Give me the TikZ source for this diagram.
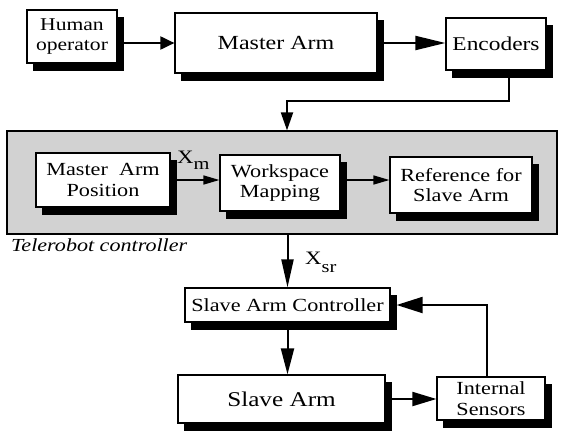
\documentclass[tikz,border=0pt]{standalone}
\usepackage{fontspec}
\setmainfont{Liberation Serif}[FakeStretch=1.2]
\usetikzlibrary{arrows.meta}
\begin{document}
\begin{tikzpicture}[x=1pt,y=-1pt,
  blk/.style={draw, line width=1.2pt, fill=white, align=center, inner sep=0pt},
  fs/.style={font=\fontsize{#1}{20.5}\selectfont},
  conn/.style={line width=2pt},
  tip/.style 2 args={-{Triangle[length=#1pt,width=#2pt]}},
  lbl/.style={inner sep=0pt, anchor=base west},
  shd/.style={draw=black, fill=black, line width=0.5pt}
]
\useasboundingbox (0,0) rectangle (561,434);

% controller panel
\node[draw, line width=1.2pt, fill=gray!35, minimum width=550pt, minimum height=103pt, inner sep=0pt] (panel) at (282,182.5) {};

% shadows (drawn first, offset right/down)
\path[shd] (33,17) rectangle (123,70);
\path[shd] (181,20) rectangle (383,80);
\path[shd] (452,25) rectangle (552,77);
\path[shd] (42,160) rectangle (176,214);
\path[shd] (226,162) rectangle (346,218);
\path[shd] (396,164) rectangle (538,220);
\path[shd] (191,295) rectangle (396,329);
\path[shd] (184,382) rectangle (391,430);
\path[shd] (443,384) rectangle (551,427);

% top row
\node[blk, fs=18, minimum width=90pt, minimum height=53pt] (hum) at (72,36.5) {Human\\operator};
\node[blk, fs=20, minimum width=202pt, minimum height=60pt] (ma) at (276,43) {Master Arm};
\node[blk, fs=19.5, minimum width=100pt, minimum height=52pt] (enc) at (496,44) {Encoders};

% controller contents
\node[blk, fs=18.5, minimum width=134pt, minimum height=54pt] (map) at (103,180) {Master~ Arm\\Position};
\node[blk, fs=18.5, minimum width=120pt, minimum height=56pt] (wm) at (280,183) {Workspace\\Mapping};
\node[blk, fs=18.5, minimum width=142pt, minimum height=56pt] (ref) at (461,185) {Reference for\\Slave Arm};

% lower part
\node[blk, fs=18.5, minimum width=205pt, minimum height=34pt] (sac) at (287.5,305) {Slave Arm Controller};
\node[blk, fs=21, minimum width=207pt, minimum height=48pt] (sa) at (281.5,399) {Slave Arm};
\node[blk, fs=18.5, minimum width=108pt, minimum height=43pt] (is) at (491,398.5) {Internal\\Sensors};

% labels
\node[lbl, font=\fontsize{18.4}{20}\selectfont\itshape] (tel) at (11,251) {Telerobot controller};
\node[lbl, font=\fontsize{19}{20}\selectfont] (xm) at (177,163) {X\raisebox{-6pt}{\fontsize{17}{17}\selectfont m}};
\node[lbl, font=\fontsize{19}{20}\selectfont] (xsr) at (305,264) {X\raisebox{-8pt}{\fontsize{17}{17}\selectfont sr}};

% connectors
\draw[conn, tip={14}{13}] (hum.east |- ma.west) -- (ma.west);
\draw[conn, tip={30}{14}] (ma.east) -- (ma.east -| enc.west);
\coordinate (j) at (287,101);
\draw[conn, tip={18}{12}] ([xshift=13pt]enc.south) |- (j) -- (j |- panel.north);
\draw[line width=1.5pt, tip={16}{9}] (map.east) -- (map.east -| wm.west);
\draw[line width=1.5pt, tip={16}{9}] (wm.east |- map.east) -- (map.east -| ref.west);
\draw[conn, tip={28}{12}] (sac.north |- panel.south) -- (sac.north);
\draw[conn, tip={26}{13}] (sac.south) -- (sac.south |- sa.north);
\draw[conn, tip={24}{14}] (sa.east) -- (sa.east -| is.west);
\draw[conn, tip={26}{16}] ([xshift=-4pt]is.north) |- ([xshift=6pt]sac.east);
\end{tikzpicture}
\end{document}
